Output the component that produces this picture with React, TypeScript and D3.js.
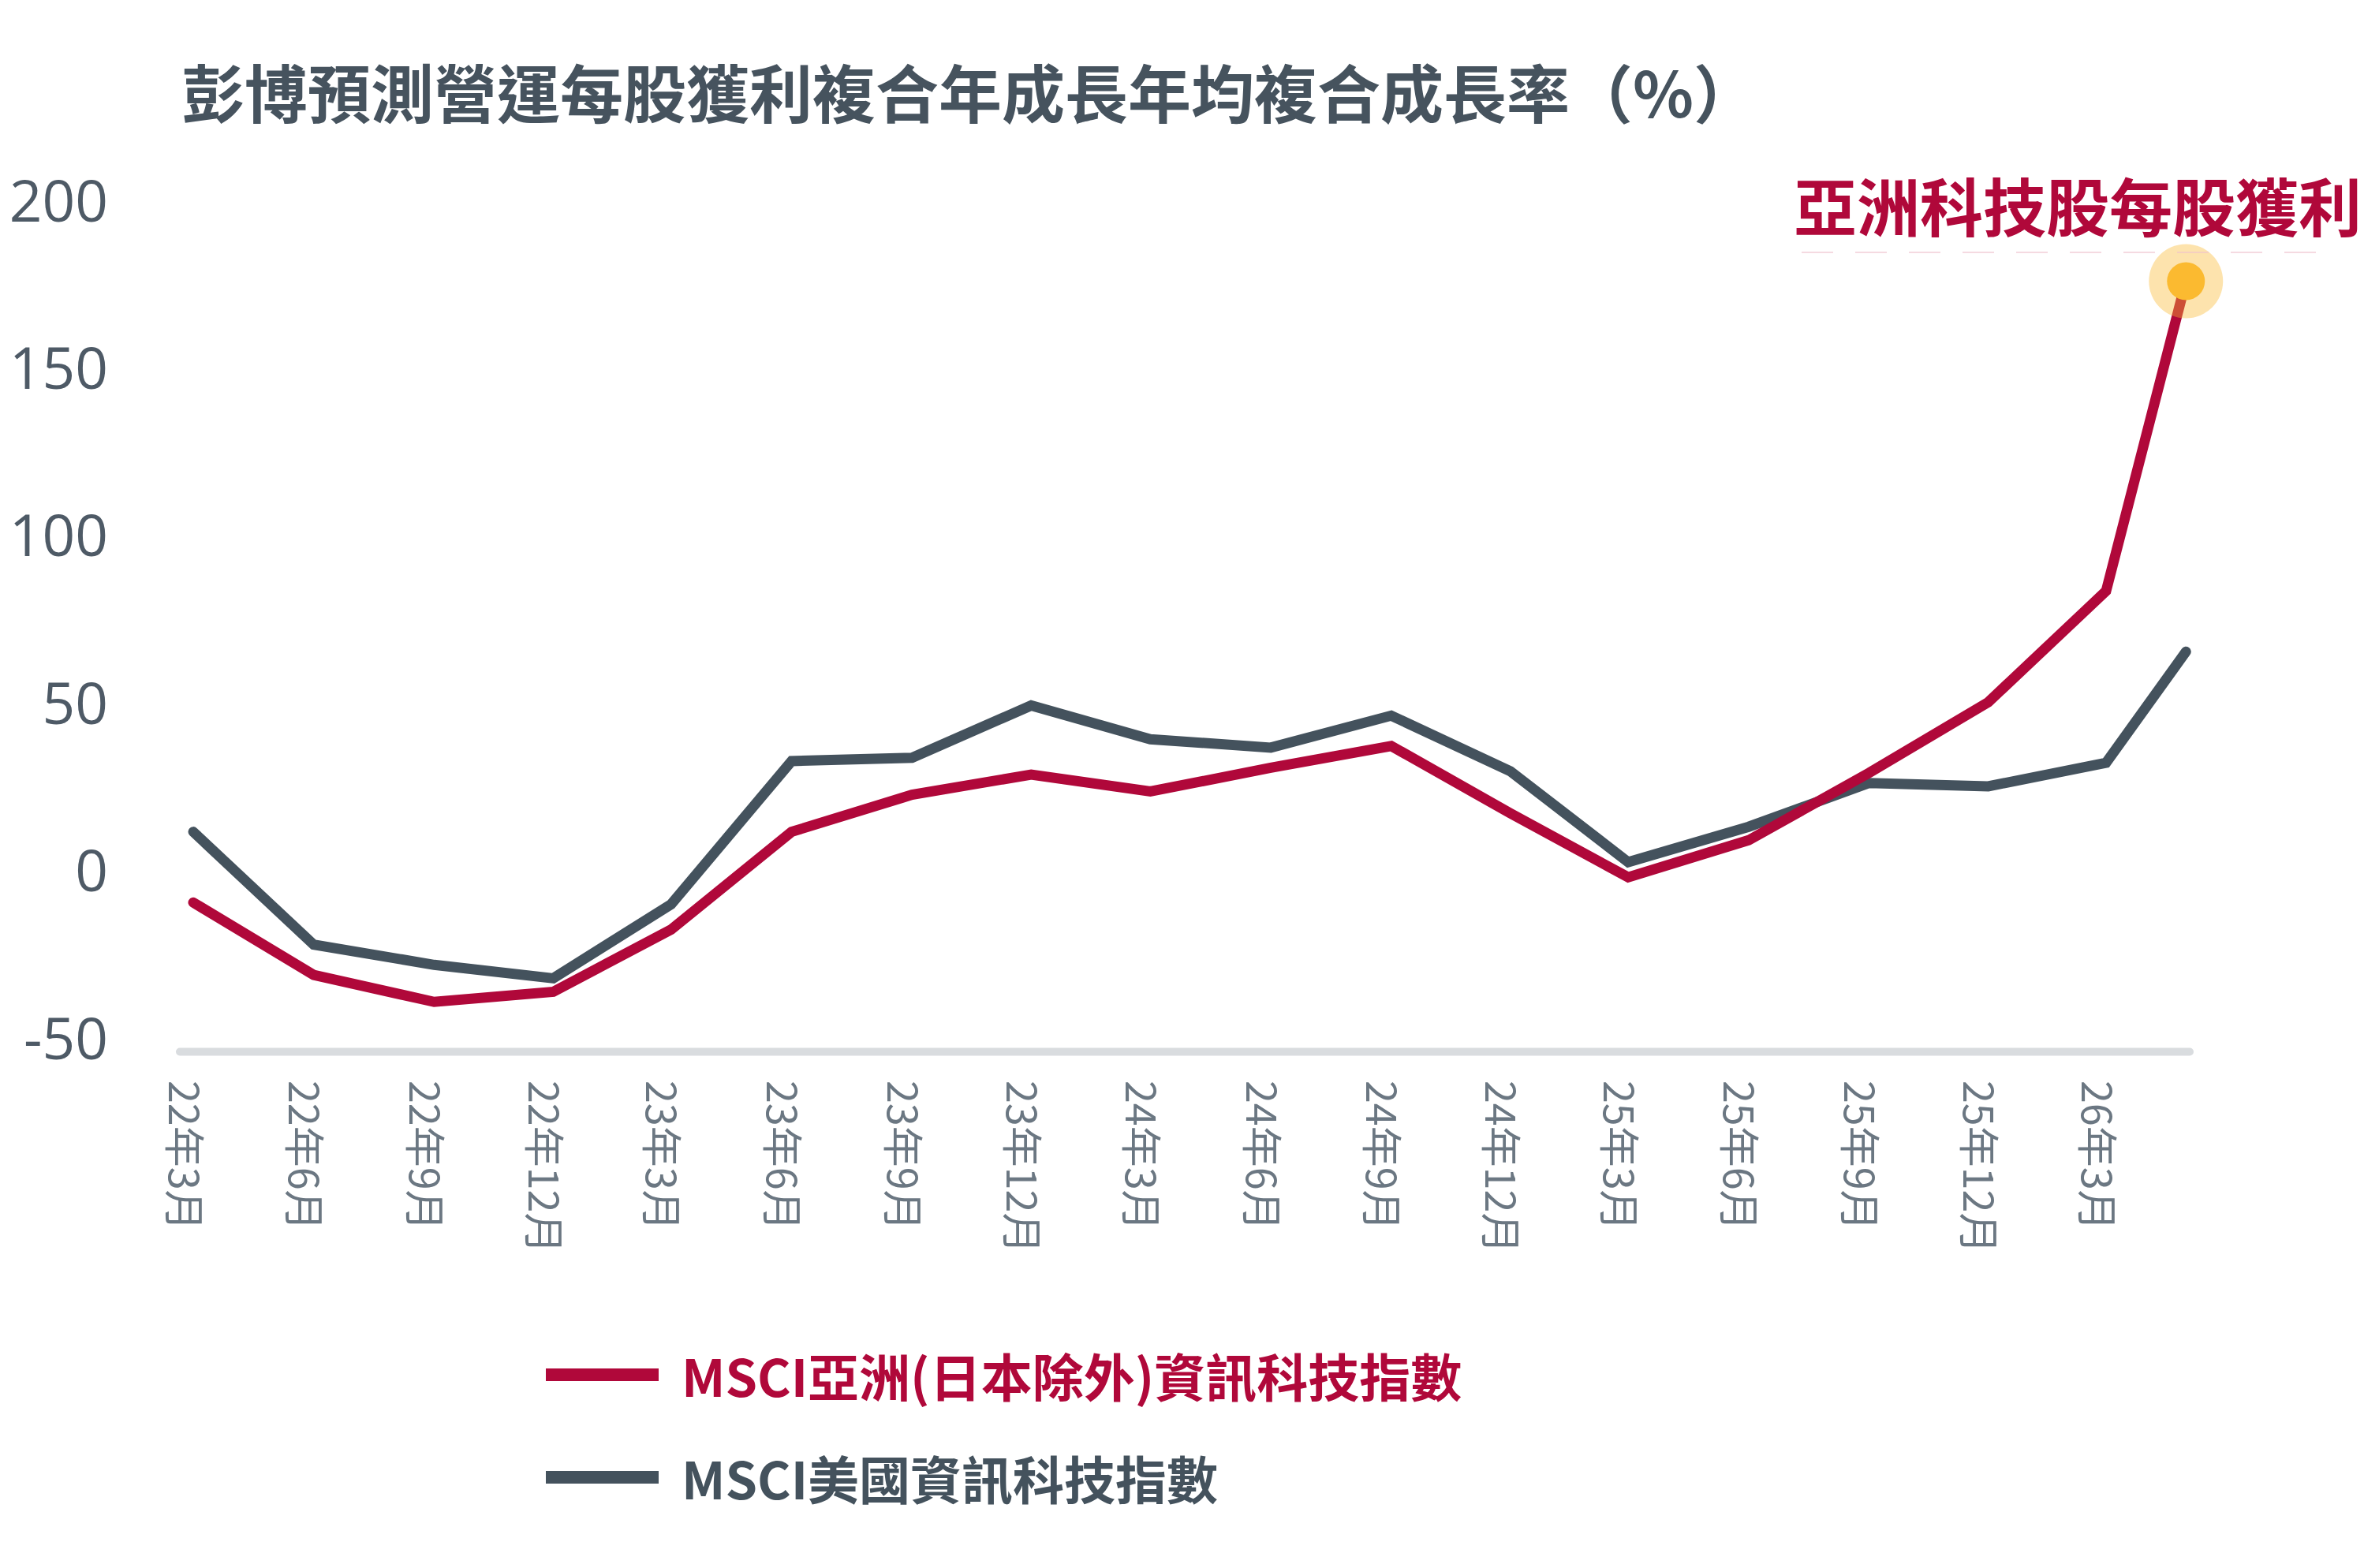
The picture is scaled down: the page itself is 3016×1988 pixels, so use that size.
import React from 'react'
import * as d3 from 'd3'

// quarterly labels shown on the x axis
const quarterLabels = [
  '22年3月', '22年6月', '22年9月', '22年12月',
  '23年3月', '23年6月', '23年9月', '23年12月',
  '24年3月', '24年6月', '24年9月', '24年12月',
  '25年3月', '25年6月', '25年9月', '25年12月',
  '26年3月',
]

const quarterDates = [
  '2022-03-01', '2022-06-01', '2022-09-01', '2022-12-01',
  '2023-03-01', '2023-06-01', '2023-09-01', '2023-12-01',
  '2024-03-01', '2024-06-01', '2024-09-01', '2024-12-01',
  '2025-03-01', '2025-06-01', '2025-09-01', '2025-12-01',
  '2026-03-01',
]

// the series carry one extra, more recent point after 26年3月
const pointDates = [...quarterDates, '2026-05-01']

const asiaTech = [-8.5, -30, -38, -35, -16.5, 12.5, 23.5, 29.5, 24.5, 31.5, 38, 18, -1, 10, 30, 51, 84, 176]
const usTech = [12.5, -21, -27, -31, -9, 33.5, 34.5, 50, 40, 37.5, 47, 30.5, 3.5, 14, 27, 26, 33, 66]

const yTicks = [200, 150, 100, 50, 0, -50]

const title = '彭博預測營運每股獲利複合年成長年均複合成長率（%）'
const callout = '亞洲科技股每股獲利'
const legendNames = ['MSCI亞洲(日本除外)資訊科技指數', 'MSCI美國資訊科技指數']

const RED = '#B0083A'
const SLATE = '#44525D'
const CJK = '"Noto Sans CJK TC", "Noto Sans", sans-serif'

const W = 3016
const H = 1988

const App: React.FC = () => {
  const parse = d3.timeParse('%Y-%m-%d')
  const tickDates = quarterDates.map((d) => parse(d) as Date)
  const dates = pointDates.map((d) => parse(d) as Date)

  const x = d3
    .scaleTime()
    .domain([tickDates[0], tickDates[tickDates.length - 1]])
    .range([245, 2670])

  const y = d3.scaleLinear().domain([-50, 200]).range([1321.5, 254])

  const line = d3
    .line<number>()
    .x((_, i) => x(dates[i]))
    .y((d) => y(d))

  const lastX = x(dates[dates.length - 1])
  const lastY = y(asiaTech[asiaTech.length - 1])
  const axisY = y(-50) + 12

  return (
    <svg
      width={W}
      height={H}
      viewBox={`0 0 ${W} ${H}`}
      style={{ position: 'absolute', left: 0, top: 0, background: '#fff' }}
    >
      {/* title */}
      <text
        x={230}
        y={114}
        fontFamily={CJK}
        fontWeight={700}
        fontSize={80}
        fill="#46535E"
        dominantBaseline="central"
      >
        {title}
      </text>

      {/* y tick labels */}
      {yTicks.map((t) => (
        <text
          key={t}
          x={137}
          y={y(t) - 2 - (200 - t) * 0.022}
          textAnchor="end"
          dominantBaseline="central"
          fontFamily='"Open Sans", sans-serif'
          fontSize={73}
          fill="#4E5A66"
        >
          {t}
        </text>
      ))}

      {/* baseline */}
      <line
        x1={228}
        x2={2776}
        y1={axisY}
        y2={axisY}
        stroke="#D9DCDF"
        strokeWidth={10}
        strokeLinecap="round"
      />

      {/* x tick labels, rotated to read downwards */}
      {quarterLabels.map((label, i) => {
        const tx = x(tickDates[i]) - 9
        const ty = 1370
        return (
          <text
            key={label}
            transform={`translate(${tx},${ty}) rotate(90)`}
            dominantBaseline="central"
            fontFamily={CJK}
            fontSize={52}
            fill="#6B7782"
          >
            {label}
          </text>
        )
      })}

      {/* series */}
      <path
        d={line(usTech) ?? ''}
        fill="none"
        stroke={SLATE}
        strokeWidth={13}
        strokeLinejoin="miter"
        strokeLinecap="round"
      />
      <path
        d={line(asiaTech) ?? ''}
        fill="none"
        stroke={RED}
        strokeWidth={13}
        strokeLinejoin="miter"
        strokeLinecap="round"
      />

      {/* highlighted latest point */}
      <circle cx={lastX} cy={lastY} r={47} fill="#FBB933" fillOpacity={0.4} />
      <circle cx={lastX} cy={lastY} r={24} fill="#FBBA30" />

      {/* callout */}
      <line
        x1={2284}
        x2={2940}
        y1={320}
        y2={320}
        stroke="#F0C2CE"
        strokeWidth={2}
        strokeDasharray="40 28"
        opacity={0.6}
      />
      <text
        x={2994}
        y={258}
        textAnchor="end"
        dominantBaseline="central"
        fontFamily={CJK}
        fontWeight={700}
        fontSize={80}
        fill={RED}
      >
        {callout}
      </text>

      {/* legend */}
      {legendNames.map((name, i) => {
        const ly = 1743 + i * 130
        const color = i === 0 ? RED : SLATE
        return (
          <g key={name}>
            <line x1={692} x2={835} y1={ly} y2={ly} stroke={color} strokeWidth={16} />
            <text
              x={864}
              y={ly}
              dominantBaseline="central"
              fontFamily={CJK}
              fontWeight={700}
              fontSize={65}
              fill={color}
            >
              {name}
            </text>
          </g>
        )
      })}
    </svg>
  )
}

export default App
